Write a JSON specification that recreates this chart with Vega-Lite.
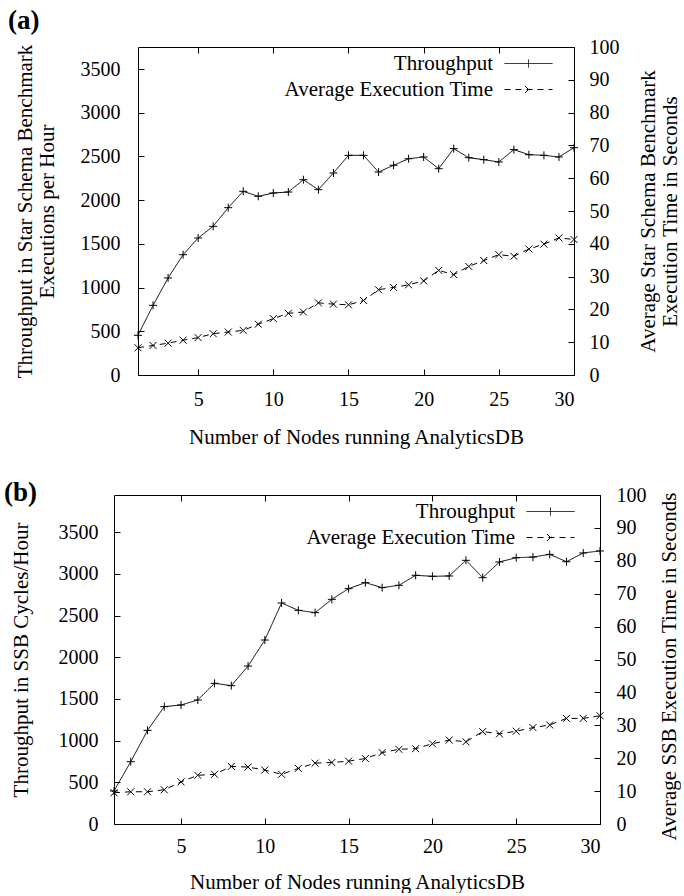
{
  "$schema": "https://vega.github.io/schema/vega-lite/v6.json",
  "background": "white",
  "padding": {"left": 3, "top": 6, "right": 0, "bottom": 0},
  "config": {
    "font": "Liberation Serif",
    "style": {
      "guide-label": {"font": "Liberation Serif"},
      "guide-title": {"font": "Liberation Serif"}
    },
    "view": {"stroke": "black", "strokeWidth": 1},
    "axis": {
      "labelFont": "Liberation Serif",
      "labelFontSize": 20,
      "labelColor": "black",
      "titleFont": "Liberation Serif",
      "titleFontSize": 21,
      "titleFontWeight": "normal",
      "titleColor": "black",
      "titleLineHeight": 22,
      "tickColor": "black",
      "tickWidth": 1,
      "tickSize": -6,
      "grid": false,
      "domain": false,
      "format": "d"
    },
    "legend": {
      "title": null,
      "orient": "none",
      "padding": 0,
      "labelFont": "Liberation Serif",
      "labelFontSize": 21,
      "labelColor": "black",
      "labelLimit": 400,
      "labelAlign": "right",
      "labelBaseline": "middle",
      "labelOffset": -46,
      "rowPadding": 4,
      "symbolSize": 64,
      "symbolStrokeWidth": 1,
      "symbolStrokeColor": "black",
      "symbolFillColor": "transparent"
    }
  },
  "datasets": {
    "a": [
      {"nodes": 1, "throughput": 454, "exectime": 8.3},
      {"nodes": 2, "throughput": 797, "exectime": 9.0},
      {"nodes": 3, "throughput": 1110, "exectime": 9.7},
      {"nodes": 4, "throughput": 1376, "exectime": 10.6},
      {"nodes": 5, "throughput": 1567, "exectime": 11.4},
      {"nodes": 6, "throughput": 1701, "exectime": 12.6},
      {"nodes": 7, "throughput": 1914, "exectime": 13.1},
      {"nodes": 8, "throughput": 2101, "exectime": 13.6},
      {"nodes": 9, "throughput": 2044, "exectime": 15.5},
      {"nodes": 10, "throughput": 2082, "exectime": 17.2},
      {"nodes": 11, "throughput": 2093, "exectime": 18.8},
      {"nodes": 12, "throughput": 2234, "exectime": 19.2},
      {"nodes": 13, "throughput": 2120, "exectime": 22.0},
      {"nodes": 14, "throughput": 2311, "exectime": 21.6},
      {"nodes": 15, "throughput": 2513, "exectime": 21.4},
      {"nodes": 16, "throughput": 2513, "exectime": 22.7},
      {"nodes": 17, "throughput": 2322, "exectime": 26.0},
      {"nodes": 18, "throughput": 2399, "exectime": 26.7},
      {"nodes": 19, "throughput": 2474, "exectime": 27.5},
      {"nodes": 20, "throughput": 2494, "exectime": 28.7},
      {"nodes": 21, "throughput": 2360, "exectime": 31.9},
      {"nodes": 22, "throughput": 2589, "exectime": 30.6},
      {"nodes": 23, "throughput": 2486, "exectime": 33.1},
      {"nodes": 24, "throughput": 2463, "exectime": 34.9},
      {"nodes": 25, "throughput": 2437, "exectime": 36.7},
      {"nodes": 26, "throughput": 2578, "exectime": 36.2},
      {"nodes": 27, "throughput": 2520, "exectime": 38.4},
      {"nodes": 28, "throughput": 2513, "exectime": 39.9},
      {"nodes": 29, "throughput": 2494, "exectime": 41.8},
      {"nodes": 30, "throughput": 2600, "exectime": 41.3}
    ],
    "b": [
      {"nodes": 1, "throughput": 396, "exectime": 9.5},
      {"nodes": 2, "throughput": 747, "exectime": 9.8},
      {"nodes": 3, "throughput": 1123, "exectime": 9.8},
      {"nodes": 4, "throughput": 1407, "exectime": 10.4},
      {"nodes": 5, "throughput": 1427, "exectime": 12.8},
      {"nodes": 6, "throughput": 1487, "exectime": 14.8},
      {"nodes": 7, "throughput": 1687, "exectime": 15.1},
      {"nodes": 8, "throughput": 1659, "exectime": 17.5},
      {"nodes": 9, "throughput": 1894, "exectime": 17.3},
      {"nodes": 10, "throughput": 2206, "exectime": 16.4},
      {"nodes": 11, "throughput": 2650, "exectime": 15.1},
      {"nodes": 12, "throughput": 2562, "exectime": 16.9},
      {"nodes": 13, "throughput": 2534, "exectime": 18.5},
      {"nodes": 14, "throughput": 2694, "exectime": 18.7},
      {"nodes": 15, "throughput": 2822, "exectime": 19.1},
      {"nodes": 16, "throughput": 2894, "exectime": 19.9},
      {"nodes": 17, "throughput": 2834, "exectime": 21.7},
      {"nodes": 18, "throughput": 2862, "exectime": 22.7},
      {"nodes": 19, "throughput": 2982, "exectime": 22.9},
      {"nodes": 20, "throughput": 2970, "exectime": 24.4},
      {"nodes": 21, "throughput": 2974, "exectime": 25.5},
      {"nodes": 22, "throughput": 3162, "exectime": 25.0},
      {"nodes": 23, "throughput": 2954, "exectime": 28.1},
      {"nodes": 24, "throughput": 3142, "exectime": 27.4},
      {"nodes": 25, "throughput": 3193, "exectime": 28.2},
      {"nodes": 26, "throughput": 3201, "exectime": 29.3},
      {"nodes": 27, "throughput": 3233, "exectime": 30.1},
      {"nodes": 28, "throughput": 3145, "exectime": 32.1},
      {"nodes": 29, "throughput": 3250, "exectime": 32.1},
      {"nodes": 30, "throughput": 3274, "exectime": 32.9}
    ]
  },
  "columns": 1,
  "center": false,
  "spacing": 30,
  "resolve": {
    "scale": {"strokeDash": "independent"},
    "legend": {"strokeDash": "independent"}
  },
  "concat": [
    {
      "hconcat": [
        {
          "width": 1,
          "height": 1,
          "view": {"stroke": null},
          "data": {"values": []},
          "mark": "text"
        },
        {
          "title": {"text": "(a)", "anchor": "start", "frame": "bounds", "font": "Liberation Serif", "fontSize": 27, "fontWeight": "bold", "color": "black", "offset": 2, "dx": -6},
          "width": 436,
          "height": 328,
          "data": {"name": "a"},
          "layer": [
            {
              "encoding": {
                "x": {"field": "nodes", "type": "quantitative", "scale": {"domain": [1, 30], "nice": false, "zero": false},
                  "axis": {"orient": "bottom", "values": [5, 10, 15, 20, 25, 30], "labelPadding": 20, "title": "Number of Nodes running AnalyticsDB", "titlePadding": 17}},
                "y": {"field": "throughput", "type": "quantitative", "scale": {"domain": [0, 3752], "nice": false},
                  "axis": {"orient": "left", "values": [0, 500, 1000, 1500, 2000, 2500, 3000, 3500], "labelPadding": 24, "title": ["Throughput in Star Schema Benchmark", "Executions per Hour"], "titlePadding": 23}}
              },
              "layer": [
                {
                  "mark": {"type": "line", "color": "black", "strokeWidth": 1},
                  "encoding": {
                    "strokeDash": {"datum": "Throughput", "type": "nominal",
                      "scale": {"domain": ["Throughput", "Average Execution Time"], "range": [[1, 0], [6, 5]]},
                      "legend": {"legendX": 380, "legendY": 6,
                        "encode": {"symbols": {"update": {
                          "shape": {"signal": "datum.value === 'Throughput' ? 'M-6,0L6,0M0,-1L0,1' : 'M-6,0L6,0M-0.875,-0.875L0.875,0.875M-0.875,0.875L0.875,-0.875'"},
                          "stroke": {"value": "black"},
                          "fill": {"value": "transparent"}}}}}}
                  }
                },
                {"mark": {"type": "point", "shape": "M-1,0L1,0M0,-1L0,1", "size": 64, "filled": false, "color": "black", "strokeWidth": 1, "opacity": 1}}
              ]
            },
            {
              "encoding": {
                "x": {"field": "nodes", "type": "quantitative", "scale": {"domain": [1, 30], "nice": false, "zero": false},
                  "axis": {"orient": "top", "values": [5, 10, 15, 20, 25, 30], "labels": false, "title": null}},
                "y": {"field": "exectime", "type": "quantitative", "scale": {"domain": [0, 100], "nice": false},
                  "axis": {"orient": "right", "values": [0, 10, 20, 30, 40, 50, 60, 70, 80, 90, 100], "labelPadding": 21, "title": ["Average Star Schema Benchmark", "Execution Time in Seconds"], "titleAngle": 270, "titleBaseline": "top", "titleX": 63}}
              },
              "layer": [
                {
                  "mark": {"type": "line", "color": "black", "strokeWidth": 1},
                  "encoding": {"strokeDash": {"datum": "Average Execution Time", "type": "nominal"}}
                },
                {"mark": {"type": "point", "shape": "M-1,-1L1,1M-1,1L1,-1", "size": 49, "filled": false, "color": "black", "strokeWidth": 1, "opacity": 1}}
              ]
            }
          ],
          "resolve": {"scale": {"y": "independent"}, "axis": {"x": "independent"}}
        }
      ],
      "bounds": "flush",
      "spacing": 23,
      "resolve": {
        "scale": {"strokeDash": "independent"},
        "legend": {"strokeDash": "independent"}
      }
    },
    {
      "title": {"text": "(b)", "anchor": "start", "frame": "bounds", "font": "Liberation Serif", "fontSize": 27, "fontWeight": "bold", "color": "black", "offset": -22, "dx": -6},
      "width": 486,
      "height": 329,
      "data": {"name": "b"},
      "layer": [
        {
          "encoding": {
            "x": {"field": "nodes", "type": "quantitative", "scale": {"domain": [1, 30], "nice": false, "zero": false},
              "axis": {"orient": "bottom", "values": [5, 10, 15, 20, 25, 30], "labelPadding": 18, "title": "Number of Nodes running AnalyticsDB", "titlePadding": 15}},
            "y": {"field": "throughput", "type": "quantitative", "scale": {"domain": [0, 3945], "nice": false},
              "axis": {"orient": "left", "values": [0, 500, 1000, 1500, 2000, 2500, 3000, 3500], "labelPadding": 22, "title": "Throughput in SSB Cycles/Hour", "titlePadding": 27}}
          },
          "layer": [
            {
              "mark": {"type": "line", "color": "black", "strokeWidth": 1},
              "encoding": {
                "strokeDash": {"datum": "Throughput", "type": "nominal",
                  "scale": {"domain": ["Throughput", "Average Execution Time"], "range": [[1, 0], [6, 5]]},
                  "legend": {"legendX": 426, "legendY": 6,
                    "encode": {"symbols": {"update": {
                      "shape": {"signal": "datum.value === 'Throughput' ? 'M-6,0L6,0M0,-1L0,1' : 'M-6,0L6,0M-0.875,-0.875L0.875,0.875M-0.875,0.875L0.875,-0.875'"},
                      "stroke": {"value": "black"},
                      "fill": {"value": "transparent"}}}}}}
              }
            },
            {"mark": {"type": "point", "shape": "M-1,0L1,0M0,-1L0,1", "size": 64, "filled": false, "color": "black", "strokeWidth": 1, "opacity": 1}}
          ]
        },
        {
          "encoding": {
            "x": {"field": "nodes", "type": "quantitative", "scale": {"domain": [1, 30], "nice": false, "zero": false},
              "axis": {"orient": "top", "values": [5, 10, 15, 20, 25, 30], "labels": false, "title": null}},
            "y": {"field": "exectime", "type": "quantitative", "scale": {"domain": [0, 100], "nice": false},
              "axis": {"orient": "right", "values": [0, 10, 20, 30, 40, 50, 60, 70, 80, 90, 100], "labelPadding": 22, "title": "Average SSB Execution Time in Seconds", "titleAngle": 270, "titleBaseline": "top", "titleX": 58, "titleY": 171}}
          },
          "layer": [
            {
              "mark": {"type": "line", "color": "black", "strokeWidth": 1},
              "encoding": {"strokeDash": {"datum": "Average Execution Time", "type": "nominal"}}
            },
            {"mark": {"type": "point", "shape": "M-1,-1L1,1M-1,1L1,-1", "size": 49, "filled": false, "color": "black", "strokeWidth": 1, "opacity": 1}}
          ]
        }
      ],
      "resolve": {"scale": {"y": "independent"}, "axis": {"x": "independent"}}
    }
  ]
}
